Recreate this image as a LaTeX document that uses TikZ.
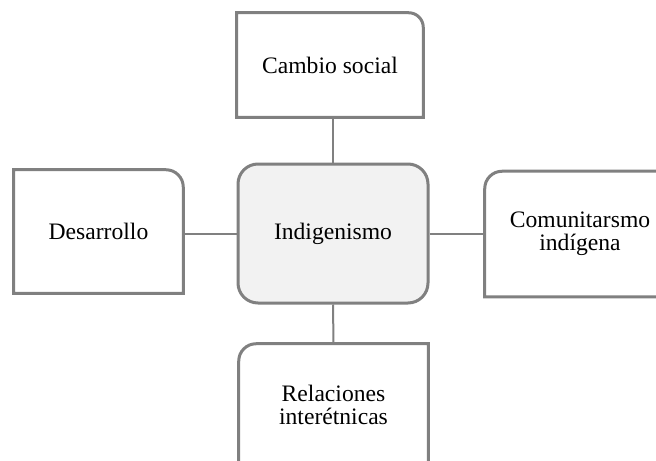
\documentclass[tikz,border=0pt]{standalone}
\usepackage{fontspec}
\setmainfont{Liberation Serif}
\definecolor{boxgray}{RGB}{128,128,128}
\definecolor{centfill}{RGB}{242,242,242}
\tikzset{
  lbl/.style={align=center,inner sep=0pt,font=\fontsize{17.7pt}{17.5pt}\selectfont},
  frame/.style={draw=boxgray,line width=2.25pt},
  link/.style={draw=boxgray,line width=1.5pt}
}

\begin{document}
\begin{tikzpicture}[x=0.75pt,y=-0.75pt]
  \useasboundingbox (0,0) rectangle (656,460);
  \clip (0,0) rectangle (656,460);
  \node[lbl,minimum width=139.5pt,minimum height=78pt]   (cambio) at (330,65)    {Cambio social};
  \node[lbl,minimum width=126.75pt,minimum height=92.25pt] (desar) at (98.5,231.5) {Desarrollo};
  \node[lbl,frame,fill=centfill,rounded corners=15pt,minimum width=142.5pt,minimum height=104.25pt] (indig) at (333,233.5) {Indigenismo};
  \node[lbl,minimum width=142.5pt,minimum height=93.75pt]  (comun) at (580,234) {Comunitarsmo\\indígena};
  \node[lbl,minimum width=141.75pt,minimum height=91.5pt]  (relac) at (333.5,405) {Relaciones\\interétnicas};
  \draw[link] (indig.north) -- (indig.north |- cambio.south);
  \draw[link] (indig.west) -- (indig.west -| desar.east);
  \draw[link] (indig.east) -- (indig.east -| comun.west);
  \draw[link] (indig.south) -- (relac.north);
  \draw[frame] (cambio.south west) -- (cambio.north west) [rounded corners=11pt] -- (cambio.north east) [sharp corners] -- (cambio.south east) -- cycle;
  \draw[frame] (desar.south west) -- (desar.north west) [rounded corners=13pt] -- (desar.north east) [sharp corners] -- (desar.south east) -- cycle;
  \draw[frame] (comun.south east) -- (comun.south west) [rounded corners=13pt] -- (comun.north west) [sharp corners] -- (comun.north east) -- cycle;
  \draw[frame] (relac.south east) -- (relac.south west) [rounded corners=13pt] -- (relac.north west) [sharp corners] -- (relac.north east) -- cycle;
\end{tikzpicture}
\end{document}
